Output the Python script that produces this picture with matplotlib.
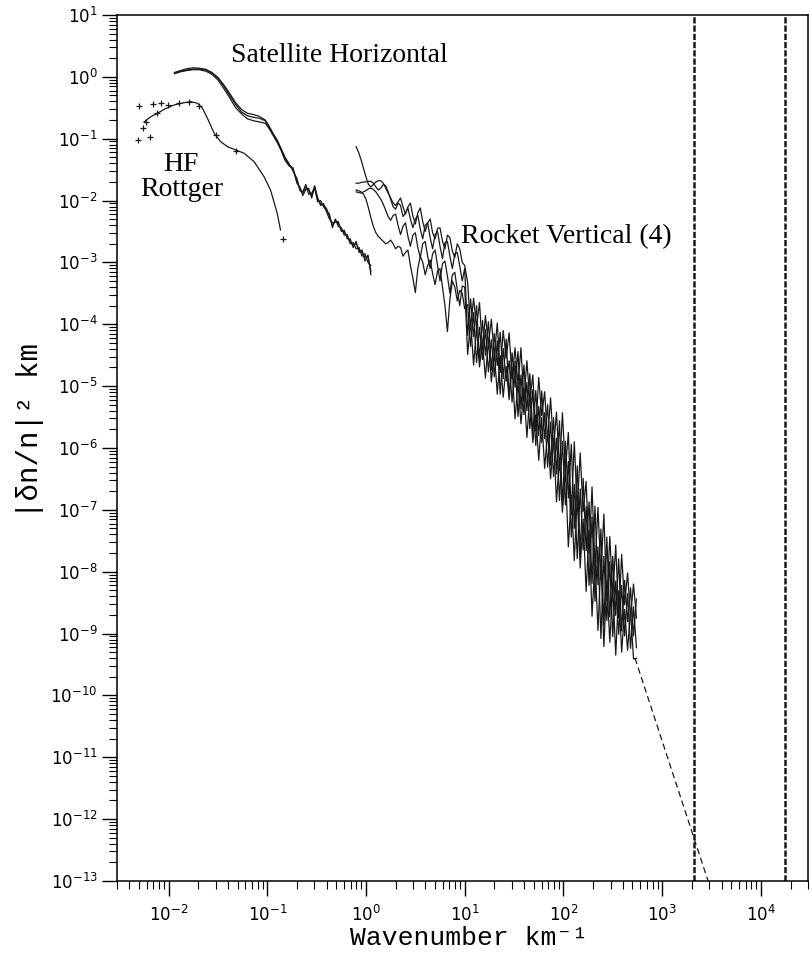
import matplotlib.pyplot as plt
import numpy as np
from matplotlib.ticker import FixedLocator, LogLocator, NullFormatter

# HF Rottger spectrum (log10 k, log10 power)
hf_logk = [-2.245, -2.179, -2.111, -2.043, -1.942, -1.841, -1.775, -1.707, -1.657, -1.606,
           -1.538, -1.472, -1.404, -1.320, -1.235, -1.134, -1.033, -0.967, -0.899, -0.866]
hf_logy = [-0.725, -0.644, -0.589, -0.524, -0.455, -0.418, -0.402, -0.427, -0.508, -0.670,
           -0.912, -1.048, -1.129, -1.182, -1.236, -1.371, -1.614, -1.829, -2.206, -2.476]
hf_pts_logk = [-2.296, -2.162, -2.078, -2.263, -2.313, -2.189, -2.229, -2.118, -2.010, -1.892,
               -1.791, -1.690, -1.522, -1.320, -0.841]
hf_pts_logy = [-0.466, -0.439, -0.418, -0.832, -1.021, -0.977, -0.725, -0.579, -0.455, -0.418,
               -0.402, -0.471, -0.940, -1.193, -2.621]

# Satellite horizontal spectra (3)
sat_logk = [-1.94, -1.88, -1.82, -1.75, -1.69, -1.62, -1.56, -1.50, -1.44, -1.38,
            -1.32, -1.26, -1.20, -1.14, -1.08, -1.02, -0.98, -0.94, -0.90, -0.86,
            -0.82, -0.78, -0.74, -0.70, -0.67, -0.64, -0.61, -0.58, -0.55, -0.52,
            -0.49, -0.46, -0.43, -0.40, -0.37, -0.34, -0.31, -0.28, -0.25, -0.22,
            -0.19, -0.16, -0.13, -0.10, -0.07, -0.04, -0.01, 0.02, 0.05]
sat1_logy = [0.06, 0.09, 0.11, 0.125, 0.127, 0.11, 0.06, -0.02, -0.15, -0.30,
             -0.45, -0.57, -0.63, -0.655, -0.67, -0.71, -0.82, -0.93, -1.04, -1.17,
             -1.33, -1.42, -1.49, -1.68, -1.80, -1.88, -1.78, -1.84, -1.92, -1.76,
             -1.98, -2.05, -2.07, -2.13, -2.26, -2.40, -2.32, -2.37, -2.46, -2.52,
             -2.58, -2.66, -2.72, -2.70, -2.80, -2.84, -2.92, -2.90, -3.15]
sat2_logy = [0.07, 0.10, 0.13, 0.145, 0.14, 0.12, 0.07, -0.01, -0.13, -0.27,
             -0.42, -0.53, -0.59, -0.61, -0.64, -0.70, -0.80, -0.92, -1.02, -1.16,
             -1.30, -1.40, -1.52, -1.64, -1.84, -1.86, -1.74, -1.90, -1.88, -1.80,
             -2.02, -2.00, -2.10, -2.16, -2.22, -2.44, -2.30, -2.42, -2.44, -2.56,
             -2.55, -2.70, -2.68, -2.78, -2.76, -2.90, -2.86, -3.00, -3.05]
sat3_logy = [0.05, 0.08, 0.10, 0.115, 0.115, 0.09, 0.04, -0.05, -0.19, -0.34,
             -0.50, -0.60, -0.68, -0.71, -0.73, -0.75, -0.84, -0.95, -1.06, -1.19,
             -1.35, -1.44, -1.47, -1.72, -1.78, -1.92, -1.82, -1.80, -1.96, -1.78,
             -1.95, -2.08, -2.05, -2.18, -2.30, -2.36, -2.35, -2.34, -2.50, -2.48,
             -2.62, -2.62, -2.76, -2.66, -2.84, -2.80, -2.98, -2.88, -3.20]

# Rocket vertical spectra (4), shared wavenumber samples
rock_logk = [-0.100, -0.075, -0.050, -0.025, 0.000, 0.025, 0.050, 0.075, 0.100, 0.125,
             0.150, 0.175, 0.200, 0.225, 0.250, 0.275, 0.300, 0.325, 0.350, 0.375,
             0.400, 0.425, 0.450, 0.475, 0.500, 0.525, 0.550, 0.575, 0.600, 0.625,
             0.650, 0.675, 0.700, 0.725, 0.750, 0.775, 0.800, 0.825, 0.850, 0.875,
             0.900, 0.925, 0.950, 0.975, 1.000,
             1.03, 1.06, 1.09, 1.12, 1.15, 1.18, 1.21, 1.24, 1.27, 1.30,
             1.33, 1.36, 1.39, 1.42, 1.45, 1.48, 1.51, 1.54, 1.57, 1.60,
             1.63, 1.66, 1.69, 1.72, 1.75, 1.78, 1.81, 1.84, 1.87, 1.90,
             1.93, 1.96, 1.99, 2.02, 2.05, 2.08, 2.11, 2.14, 2.17, 2.20,
             2.23, 2.26, 2.29, 2.32, 2.35, 2.38, 2.41, 2.44, 2.47, 2.50,
             2.53, 2.56, 2.59, 2.62, 2.65, 2.68, 2.71, 2.74]
rock1_logy = [-1.13, -1.22, -1.34, -1.48, -1.62, -1.74, -1.78, -1.74, -1.70, -1.68,
              -1.68, -1.72, -1.80, -1.88, -1.96, -2.04, -2.08, -2.02, -1.96, -2.10,
              -2.22, -2.10, -2.04, -2.25, -2.38, -2.20, -2.12, -2.34, -2.50, -2.36,
              -2.30, -2.52, -2.62, -2.45, -2.44, -2.66, -2.78, -2.56, -2.60, -2.82,
              -2.92, -2.70, -2.78, -3.00, -3.05,
              -3.33, -4.06, -3.58, -4.05, -3.65, -4.40, -3.86, -4.33, -3.92, -4.51,
              -3.98, -4.78, -4.10, -4.55, -4.14, -4.88, -4.38, -4.97, -4.38, -5.25,
              -4.59, -5.23, -4.82, -5.73, -4.86, -5.48, -5.09, -5.88, -5.19, -6.00,
              -5.42, -6.36, -5.43, -6.36, -5.75, -7.08, -5.90, -7.00, -6.08, -7.03,
              -6.54, -7.70, -6.63, -7.93, -6.96, -8.02, -7.07, -8.47, -7.43, -8.37,
              -7.57, -8.75, -7.72, -8.53, -8.02, -8.73, -8.20, -8.75]
rock2_logy = [-1.72, -1.72, -1.71, -1.70, -1.70, -1.69, -1.69, -1.72, -1.78, -1.83,
              -1.80, -1.74, -1.76, -1.86, -1.98, -2.10, -2.14, -2.04, -2.08, -2.26,
              -2.20, -2.12, -2.30, -2.44, -2.30, -2.24, -2.46, -2.62, -2.40, -2.36,
              -2.60, -2.78, -2.55, -2.50, -2.74, -2.94, -2.68, -2.66, -2.90, -3.10,
              -2.86, -2.84, -3.06, -3.30, -3.10,
              -4.18, -3.59, -4.20, -3.70, -4.57, -3.94, -4.50, -3.96, -4.74, -4.15,
              -4.67, -4.13, -4.88, -4.24, -5.18, -4.46, -5.02, -4.44, -5.37, -4.66,
              -5.40, -4.80, -5.78, -5.07, -5.80, -5.08, -5.85, -5.30, -6.28, -5.51,
              -6.42, -5.56, -6.92, -5.89, -6.81, -5.94, -7.30, -6.29, -7.74, -6.49,
              -7.66, -6.87, -8.19, -6.94, -8.21, -7.31, -8.87, -7.44, -8.73, -7.75,
              -8.71, -7.79, -8.96, -8.14, -8.81, -8.26, -9.04, -8.44]
rock3_logy = [-1.83, -1.84, -1.86, -1.90, -1.98, -2.12, -2.28, -2.42, -2.52, -2.58,
              -2.62, -2.66, -2.70, -2.68, -2.64, -2.70, -2.78, -2.74, -2.76, -2.90,
              -2.84, -2.80, -3.05, -3.25, -3.49, -3.10, -2.90, -3.00, -3.20, -3.05,
              -2.96, -3.18, -3.36, -3.14, -3.10, -3.40, -3.70, -4.12, -3.60, -3.30,
              -3.40, -3.62, -3.45, -3.50, -3.75,
              -3.68, -4.36, -3.81, -4.62, -4.05, -4.57, -4.08, -4.77, -4.25, -4.85,
              -4.27, -5.13, -4.39, -4.92, -4.59, -5.26, -4.60, -5.49, -4.82, -5.46,
              -4.94, -5.69, -5.06, -5.96, -5.33, -5.91, -5.43, -6.31, -5.58, -6.46,
              -5.84, -6.85, -5.89, -6.92, -6.22, -7.44, -6.59, -7.79, -6.66, -7.65,
              -6.95, -8.22, -7.12, -8.48, -7.60, -9.08, -7.75, -8.79, -7.84, -9.05,
              -8.15, -9.01, -8.22, -9.04, -8.35, -9.24, -8.57, -9.23]
rock4_logy = [-1.86, -1.87, -1.88, -1.86, -1.84, -1.81, -1.80, -1.82, -1.86, -1.92,
              -1.98, -2.06, -2.16, -2.26, -2.32, -2.24, -2.22, -2.40, -2.55, -2.42,
              -2.36, -2.58, -2.74, -2.56, -2.52, -2.76, -2.92, -2.70, -2.66, -2.90,
              -3.10, -2.86, -2.80, -3.05, -3.30, -3.02, -2.98, -3.22, -3.50, -3.20,
              -3.16, -3.45, -3.70, -3.38, -3.40,
              -4.49, -3.95, -4.66, -4.05, -4.69, -4.29, -4.87, -4.25, -4.93, -4.45,
              -5.13, -4.51, -5.18, -4.68, -5.22, -4.69, -5.53, -4.94, -5.61, -5.04,
              -5.83, -5.14, -5.91, -5.47, -6.20, -5.51, -6.33, -5.73, -6.50, -5.85,
              -6.87, -6.16, -7.04, -6.34, -7.60, -6.77, -7.82, -6.79, -7.94, -7.15,
              -8.32, -7.33, -8.72, -7.82, -8.95, -7.85, -9.21, -8.15, -9.14, -8.25,
              -9.35, -8.31, -9.30, -8.61, -9.27, -8.62, -9.41, -9.40]

# extrapolation and vertical reference lines
dash_k = [531, 2920]
dash_y = [4.0e-10, 1.0e-13]
vline_k = [2100, 17600]

x_major = [1e-2, 1e-1, 1e0, 1e1, 1e2, 1e3, 1e4]
y_major = [10.0**e for e in range(-13, 2)]

fig = plt.figure(figsize=(8.12, 9.58), dpi=100)
ax = fig.add_axes([0.144, 0.0804, 0.851, 0.904])

lc = '#1a1a1a'
ax.plot(10**np.array(hf_logk), 10**np.array(hf_logy), color=lc, lw=0.9)
ax.plot(10**np.array(hf_pts_logk), 10**np.array(hf_pts_logy), '+', color=lc, ms=4, mew=0.9)

for ly in (sat1_logy, sat2_logy, sat3_logy):
    ax.plot(10**np.array(sat_logk), 10**np.array(ly), color=lc, lw=0.9)

for ly in (rock1_logy, rock2_logy, rock3_logy, rock4_logy):
    ax.plot(10**np.array(rock_logk), 10**np.array(ly), color=lc, lw=0.9)

ax.plot(dash_k, dash_y, color=lc, lw=0.9, ls=(0, (5, 3)))
for k in vline_k:
    ax.axvline(k, color=lc, lw=1.8, ls=(0, (2.5, 0.8)))

ax.set_xscale('log')
ax.set_yscale('log')
ax.set_xlim(3e-3, 3e4)
ax.set_ylim(1e-13, 1e1)

ax.xaxis.set_major_locator(FixedLocator(x_major))
ax.yaxis.set_major_locator(FixedLocator(y_major))
ax.xaxis.set_minor_locator(LogLocator(base=10, subs=np.arange(2, 10), numticks=100))
ax.yaxis.set_minor_locator(LogLocator(base=10, subs=np.arange(2, 10), numticks=100))
ax.xaxis.set_minor_formatter(NullFormatter())
ax.yaxis.set_minor_formatter(NullFormatter())

ax.tick_params(which='major', direction='out', length=11, width=1, labelsize=12,
               top=False, right=False)
ax.tick_params(which='minor', direction='out', length=6, width=0.8,
               top=False, right=False)
ax.tick_params(axis='x', which='major', pad=6)
ax.tick_params(axis='y', which='major', pad=3)
for s in ax.spines.values():
    s.set_linewidth(1.1)

mono = ['Liberation Mono', 'DejaVu Sans Mono']
ax.set_xlabel('Wavenumber km⁻¹', family=mono, fontsize=19)
ax.set_ylabel('|δn/n|² km', family=mono, fontsize=21)
ax.xaxis.set_label_coords(0.509, -0.052)
ax.yaxis.set_label_coords(-0.105, 0.52)

serif = ['Liberation Serif', 'DejaVu Serif']
ax.text(0.0433, 2.2, 'Satellite Horizontal', family=serif, fontsize=20, ha='left', va='center')
ax.text(0.0135, 0.024, 'HF\nRottger', family=serif, fontsize=20, ha='center', va='center',
        multialignment='center', linespacing=1.0)
ax.text(9.1, 2.6e-3, 'Rocket Vertical (4)', family=serif, fontsize=20, ha='left', va='center')

fig.savefig('out.png', dpi=100)
